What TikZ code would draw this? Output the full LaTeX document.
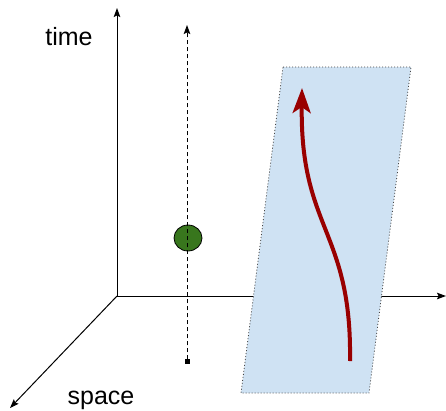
\documentclass[tikz,border=0pt]{standalone}
\usepackage{fontspec}
\setmainfont{Liberation Sans}
\usepackage{tikz}
\usetikzlibrary{arrows.meta,positioning,shapes.geometric}
\definecolor{planecol}{RGB}{207,226,243}
\definecolor{pathcol}{RGB}{153,0,0}
\definecolor{eventcol}{RGB}{56,118,29}
\definecolor{edgecol}{RGB}{70,70,70}

\begin{document}
\begin{tikzpicture}[x=1pt,y=-1pt,
  ax/.style={line width=1pt,-{Stealth[length=9pt,width=6.5pt,inset=1.5pt]}},
  lbl/.style={font=\fontsize{25}{30}\selectfont,inner sep=0pt,anchor=base}]
  \useasboundingbox (0,0) rectangle (446,410);
  % axes
  \coordinate (o) at (117,296);
  \coordinate (tend) at (117,8);
  \coordinate (xend) at (446,296);
  \coordinate (send) at (10,408);
  \draw[ax] (o) -- (tend);
  \draw[ax] (o) -- (xend);
  \draw[ax] (o) -- (send);
  \node[lbl] (time) at (69,45) {time};
  \node[lbl] (space) at (101,404) {space};
  % a point at rest: its world line
  \node[ellipse,draw,line width=0.8pt,fill=eventcol,minimum width=28pt,
        minimum height=26pt,inner sep=0pt] (event) at (188,238) {};
  \coordinate (wbot) at (187,364);
  \coordinate (wtop) at (187,25);
  \draw[line width=0.9pt,dash pattern=on 4pt off 3pt,
        {Square[length=5pt,width=5pt]}-{Stealth[length=9pt,width=6.5pt,inset=1.5pt]}]
        (wbot) -- (wtop);
  % the plane and the moving path in it
  \coordinate (pl1) at (283,67);
  \coordinate (pl2) at (411,67);
  \coordinate (pl3) at (369,393);
  \coordinate (pl4) at (241,393);
  \draw[fill=planecol,draw=edgecol,line width=0.8pt,dash pattern=on 1pt off 2pt]
        (pl1) -- (pl2) -- (pl3) -- (pl4) -- cycle;
  \coordinate (ps) at (350,361);
  \coordinate (pe) at (302,88);
  \draw[pathcol,line width=4pt,-{Stealth[length=25pt,width=18pt,inset=6pt]}]
        (ps) .. controls (352,230) and (300,230) .. (pe);
\end{tikzpicture}
\end{document}
